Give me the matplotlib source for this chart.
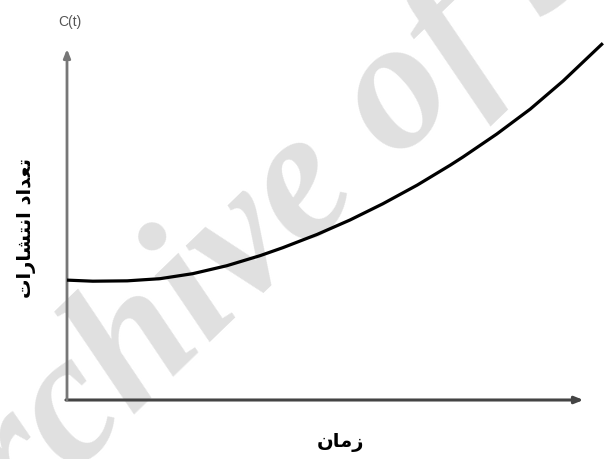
import matplotlib
matplotlib.use("Agg")
import matplotlib.pyplot as plt

# curve (time, count)
t = [0, 0.48, 1.12, 1.73, 2.34, 2.97, 3.59, 4.01, 4.65, 5.26, 5.87, 6.51,
     7.12, 7.36, 7.99, 8.61, 9.22, 9.96]
c = [3.33, 3.30, 3.31, 3.37, 3.51, 3.73, 4.01, 4.23, 4.60, 5.0, 5.45, 5.97,
     6.52, 6.75, 7.39, 8.08, 8.86, 9.91]

# labels, pre-shaped Arabic presentation forms in visual (LTR) order
xlabel = "\uFEE5\uFE8E\uFEE3\uFEAF"  # زمان
ylabel = ("\uFE95\uFE8D\uFEAD\uFE8E\uFEB8\uFE98\uFEE7\uFE8D" + " " +
          "\uFEA9\uFE8D\uFEAA\uFECC\uFE97")  # تعداد انتشارات
ctext = "C(t)"
watermark = "Archive of SID"

fig = plt.figure(figsize=(6.05, 4.59), dpi=100)
ax = fig.add_axes([67/605, 59/459, 538/605, 400/459])
ax.set_xlim(0, 10)
ax.set_ylim(0, 400/36)
ax.axis("off")

# faint watermark behind everything
ax.text(320/605, 1 - 182/459, watermark, transform=fig.transFigure,
        color="#e0e0e0", fontsize=134, family="Liberation Serif",
        style="italic", weight="bold", rotation=44, ha="center",
        va="center", zorder=0, clip_on=False)

ax.plot(t, c, color="black", lw=2.3, solid_capstyle="butt", clip_on=False, zorder=3)

# axes arrows
ax.annotate("", xy=(9.6, 0), xytext=(-0.02, 0),
            arrowprops=dict(arrowstyle="-|>,head_length=0.5,head_width=0.2",
                            color="#444444", lw=2.2, shrinkA=0, shrinkB=0),
            annotation_clip=False, zorder=2)
ax.annotate("", xy=(0, 9.75), xytext=(0, 0),
            arrowprops=dict(arrowstyle="-|>,head_length=0.5,head_width=0.2",
                            color="#777777", lw=2.0, shrinkA=0, shrinkB=0),
            annotation_clip=False, zorder=2)

fig.text(70/605, 1 - 22/459, ctext, color="#555555", fontsize=10,
         family="Liberation Sans", ha="center", va="center")
fig.text(27/605, 1 - 228/459, ylabel, fontsize=14, family="DejaVu Sans",
         weight="bold", rotation=90, ha="center", va="center")
fig.text(340/605, 1 - 443/459, xlabel, fontsize=14, family="DejaVu Sans",
         weight="bold", ha="center", va="center")

fig.savefig("out.png", dpi=100)
